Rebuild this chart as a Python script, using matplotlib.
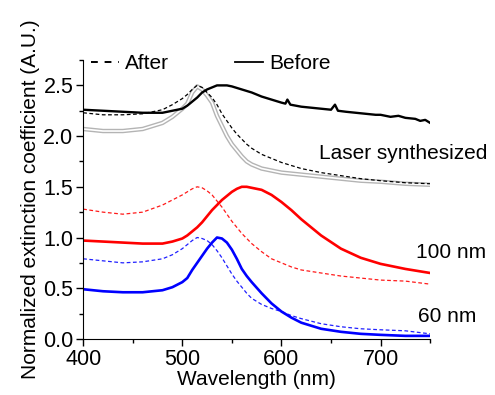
import matplotlib
matplotlib.use("Agg")
import matplotlib.pyplot as plt
from matplotlib.ticker import MultipleLocator, FormatStrFormatter

plt.rcParams["font.family"] = ["Liberation Sans", "DejaVu Sans"]

# common wavelength grid (nm)
WL = [400, 420, 440, 460, 480, 490, 500, 505, 510, 515, 520, 525, 530, 535, 540,
      545, 550, 555, 560, 565, 570, 580, 590, 600, 610, 620, 640, 660, 680, 700,
      725, 750]

# 60 nm
blue_before = [0.49, 0.47, 0.46, 0.46, 0.48, 0.51, 0.56, 0.60, 0.68, 0.75, 0.82, 0.89,
               0.95, 1.00, 0.99, 0.95, 0.88, 0.79, 0.69, 0.62, 0.56, 0.45, 0.35, 0.27,
               0.21, 0.16, 0.10, 0.07, 0.05, 0.04, 0.03, 0.03]
blue_after = [0.79, 0.77, 0.75, 0.76, 0.79, 0.83, 0.89, 0.93, 0.97, 1.00, 0.99, 0.97,
              0.93, 0.87, 0.80, 0.72, 0.64, 0.57, 0.51, 0.45, 0.40, 0.34, 0.30, 0.27,
              0.23, 0.20, 0.15, 0.12, 0.10, 0.09, 0.08, 0.05]

# 100 nm
red_before = [0.97, 0.96, 0.95, 0.94, 0.94, 0.96, 0.99, 1.02, 1.06, 1.10, 1.15, 1.21,
              1.27, 1.32, 1.37, 1.41, 1.45, 1.48, 1.50, 1.50, 1.49, 1.47, 1.42, 1.35,
              1.27, 1.18, 1.02, 0.89, 0.80, 0.74, 0.69, 0.65]
red_after = [1.28, 1.25, 1.23, 1.25, 1.32, 1.37, 1.42, 1.45, 1.48, 1.50, 1.49, 1.46,
             1.42, 1.36, 1.30, 1.23, 1.16, 1.10, 1.04, 0.99, 0.94, 0.86, 0.79, 0.75,
             0.71, 0.68, 0.65, 0.62, 0.60, 0.58, 0.57, 0.54]

# laser synthesized
laser_after = [2.23, 2.21, 2.21, 2.22, 2.26, 2.31, 2.37, 2.41, 2.46, 2.50, 2.48, 2.43,
               2.38, 2.31, 2.22, 2.15, 2.08, 2.02, 1.97, 1.92, 1.88, 1.82, 1.78, 1.74,
               1.71, 1.68, 1.64, 1.61, 1.58, 1.56, 1.54, 1.53]
laser_gray = [2.07, 2.05, 2.05, 2.07, 2.13, 2.19, 2.27, 2.32, 2.43, 2.49, 2.46, 2.40,
              2.33, 2.20, 2.10, 2.00, 1.92, 1.86, 1.80, 1.75, 1.72, 1.68, 1.66, 1.64,
              1.63, 1.62, 1.60, 1.58, 1.56, 1.55, 1.53, 1.52]

wl_laser_before = [400, 420, 440, 460, 480, 490, 500, 505, 510, 515, 520, 525, 530, 535,
                   540, 545, 550, 560, 570, 580, 590, 600, 604, 606, 609, 620, 640, 650,
                   654, 657, 665, 675, 685, 695, 700, 710, 718, 725, 735, 740, 745, 750]
laser_before = [2.26, 2.25, 2.24, 2.23, 2.23, 2.25, 2.27, 2.30, 2.34, 2.38, 2.43, 2.46,
                2.48, 2.50, 2.50, 2.50, 2.49, 2.46, 2.43, 2.39, 2.36, 2.33, 2.32, 2.36,
                2.31, 2.29, 2.27, 2.26, 2.31, 2.25, 2.24, 2.23, 2.22, 2.21, 2.21, 2.19,
                2.20, 2.18, 2.17, 2.15, 2.16, 2.13]

DASH = (0, (3, 2))
FS = 15

fig = plt.figure(figsize=(4.95, 3.95), dpi=100)
ax = fig.add_axes([0.168, 0.142, 0.701, 0.706])

# gray hollow-circle trace drawn as a tube
ax.plot(WL, laser_gray, color="#b4b4b4", lw=3.2, solid_capstyle="round")
ax.plot(WL, laser_gray, color="white", lw=1.2)
ax.plot(WL, laser_after, color="black", lw=0.9, linestyle=DASH)
ax.plot(wl_laser_before, laser_before, color="black", lw=1.7)

ax.plot(WL, red_after, color="#ff1a1a", lw=0.9, linestyle=DASH)
ax.plot(WL, red_before, color="#ff0000", lw=1.9)
ax.plot(WL, blue_after, color="#2020ff", lw=0.9, linestyle=DASH)
ax.plot(WL, blue_before, color="#0000ff", lw=1.9)

ax.set_xlim(400, 750)
ax.set_ylim(0, 2.75)
ax.xaxis.set_major_locator(MultipleLocator(100))
ax.xaxis.set_minor_locator(MultipleLocator(50))
ax.yaxis.set_major_locator(MultipleLocator(0.5))
ax.yaxis.set_minor_locator(MultipleLocator(0.25))
ax.yaxis.set_major_formatter(FormatStrFormatter("%.1f"))
ax.spines["top"].set_visible(False)
ax.spines["right"].set_visible(False)
ax.tick_params(which="major", direction="out", length=5, width=1, labelsize=15.5, pad=2)
ax.tick_params(which="minor", direction="out", length=3, width=1)

ax.set_xlabel("Wavelength (nm)", fontsize=FS, labelpad=0)
ax.set_ylabel("Normalized extinction coefficient (A.U.)", fontsize=FS, labelpad=2)

ax.text(638, 1.83, "Laser synthesized", fontsize=FS, va="center", ha="left", clip_on=False)
ax.text(736, 0.85, "100 nm", fontsize=FS, va="center", ha="left", clip_on=False)
ax.text(738, 0.22, "60 nm", fontsize=FS, va="center", ha="left", clip_on=False)

h1, = ax.plot([], [], color="black", lw=1.4, linestyle=(0, (3.5, 3.5)))
h2, = ax.plot([], [], color="black", lw=1.3)
ax.legend([h1, h2], ["After", "Before"], ncol=2, frameon=False, fontsize=FS,
          loc="upper left", bbox_to_anchor=(0.0, 1.05), handlelength=1.3,
          handletextpad=0.3, columnspacing=3.2, borderaxespad=0)

fig.savefig("out.png", dpi=100)
